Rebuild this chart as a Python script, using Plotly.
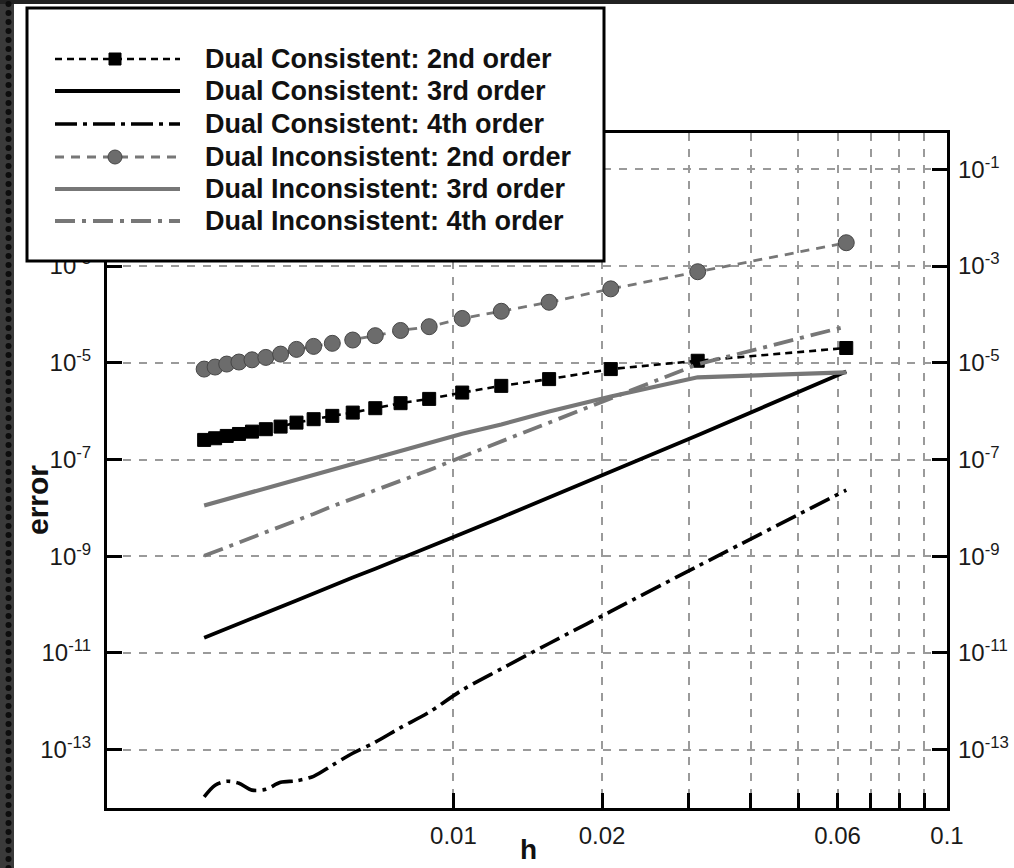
import plotly.graph_objects as go

# ---------------- data ----------------
h = [0.003125, 0.003289, 0.003472, 0.003676, 0.003906, 0.004167, 0.004464, 0.004808,
     0.005208, 0.005682, 0.00625, 0.006944, 0.007813, 0.008929, 0.010417, 0.0125,
     0.015625, 0.020833, 0.03125, 0.0625]

dc2 = [2.54e-7, 2.75e-7, 3.07e-7, 3.37e-7, 3.77e-7, 4.23e-7, 4.79e-7, 5.79e-7,
       6.81e-7, 7.98e-7, 9.33e-7, 1.15e-6, 1.46e-6, 1.79e-6, 2.42e-6, 3.33e-6,
       4.59e-6, 7.40e-6, 1.10e-5, 2.02e-5]
dc3 = [2.07e-11, 2.57e-11, 3.22e-11, 4.03e-11, 5.19e-11, 6.71e-11, 9.25e-11, 1.22e-10,
       1.69e-10, 2.48e-10, 3.64e-10, 5.51e-10, 8.87e-10, 1.53e-9, 2.96e-9, 6.34e-9,
       1.65e-8, 5.58e-8, 3.16e-7, 6.61e-6]
dc4 = [1.06e-14, 1.85e-14, 2.22e-14, 2.02e-14, 1.46e-14, 1.52e-14, 2.12e-14, 2.28e-14,
       2.82e-14, 4.78e-14, 8.45e-14, 1.43e-13, 2.86e-13, 5.98e-13, 1.71e-12, 4.70e-12,
       1.57e-11, 7.24e-11, 6.21e-10, 2.33e-8]
di2 = [7.40e-6, 8.15e-6, 9.40e-6, 1.035e-5, 1.15e-5, 1.29e-5, 1.51e-5, 1.89e-5,
       2.18e-5, 2.52e-5, 2.95e-5, 3.63e-5, 4.65e-5, 5.57e-5, 8.24e-5, 1.16e-4,
       1.78e-4, 3.37e-4, 7.62e-4, 3.03e-3]
di3 = [1.12e-8, 1.30e-8, 1.52e-8, 1.77e-8, 2.11e-8, 2.52e-8, 3.13e-8, 3.81e-8,
       4.75e-8, 6.18e-8, 8.07e-8, 1.07e-7, 1.49e-7, 2.17e-7, 3.40e-7, 5.31e-7,
       9.84e-7, 2.00e-6, 5.00e-6, 6.30e-6]
di4 = [1.02e-9, 1.26e-9, 1.55e-9, 1.92e-9, 2.44e-9, 3.11e-9, 4.21e-9, 5.52e-9,
       7.50e-9, 1.08e-8, 1.55e-8, 2.29e-8, 3.60e-8, 6.03e-8, 1.14e-7, 2.36e-7,
       5.87e-7, 1.88e-6, 9.31e-6, 5.65e-5]

series_names = ["Dual Consistent: 2nd order", "Dual Consistent: 3rd order",
                "Dual Consistent: 4th order", "Dual Inconsistent: 2nd order",
                "Dual Inconsistent: 3rd order", "Dual Inconsistent: 4th order"]

x_tickvals = [0.01, 0.02, 0.06, 0.1]
x_ticktext = ["0.01", "0.02", "0.06", "0.1"]
x_minorvals = [0.03, 0.04, 0.05, 0.07, 0.08, 0.09]
y_tickvals = [1e-13, 1e-11, 1e-9, 1e-7, 1e-5, 1e-3, 1e-1]
y_ticktext = ["10<sup>-13</sup>", "10<sup>-11</sup>", "10<sup>-9</sup>", "10<sup>-7</sup>",
              "10<sup>-5</sup>", "10<sup>-3</sup>", "10<sup>-1</sup>"]

# ---------------- styles ----------------
BLACK = "#000000"
GRAY = "#777777"
CIRC_FILL = "#6c6c6c"
FONT = "Liberation Sans, Arial, Helvetica, sans-serif"

styles = [
    dict(y=dc2, color=BLACK, width=2.6, dash="7px,5px", symbol="square", msize=13, mfill=BLACK, mline=BLACK),
    dict(y=dc3, color=BLACK, width=3.8, dash="solid", symbol=None),
    dict(y=dc4, color=BLACK, width=3.6, dash="22px,6px,4px,6px", symbol=None, shape="spline"),
    dict(y=di2, color=GRAY, width=2.8, dash="9px,7px", symbol="circle", msize=16, mfill=CIRC_FILL, mline="#474747"),
    dict(y=di3, color=GRAY, width=4.2, dash="solid", symbol=None),
    dict(y=di4, color=GRAY, width=3.8, dash="20px,7px,4px,7px", symbol=None),
]

fig = go.Figure()
for name, s in zip(series_names, styles):
    line = dict(color=s["color"], width=s["width"], dash=s["dash"])
    if s.get("shape") == "spline":
        line.update(shape="spline", smoothing=0.9)
    if s["symbol"]:
        fig.add_trace(go.Scatter(
            x=h, y=s["y"], name=name, mode="lines+markers", line=line,
            marker=dict(symbol=s["symbol"], size=s["msize"], color=s["mfill"],
                        line=dict(color=s["mline"], width=1)),
            showlegend=False))
    else:
        fig.add_trace(go.Scatter(x=h, y=s["y"], name=name, mode="lines", line=line,
                                 showlegend=False))

# invisible trace so the right-hand axis (tick labels on the right) is drawn
fig.add_trace(go.Scatter(x=h, y=di2, yaxis="y2", mode="lines", opacity=0,
                         hoverinfo="skip", showlegend=False))

# ---------------- layout geometry ----------------
L, R, T, B = 107, 67, 133, 60
FW, FH = 1014, 868
PW, PH = FW - L - R, FH - T - B


def px(x):
    return (x - L) / PW


def py(y):
    return (T + PH - y) / PH


grid = dict(showgrid=True, gridcolor="#9a9a9a", gridwidth=1.5, griddash="8px,8px")
tickstyle = dict(ticks="inside", ticklen=15, tickwidth=3, tickcolor=BLACK)

fig.update_layout(
    width=FW, height=FH,
    margin=dict(l=L, r=R, t=T, b=B, autoexpand=False),
    paper_bgcolor="white", plot_bgcolor="white",
    showlegend=False,
    font=dict(family=FONT, color="#1a1a1a"),
    xaxis=dict(type="log", range=[-2.702, -1], tickvals=x_tickvals, ticktext=x_ticktext,
               showline=True, linewidth=3, linecolor=BLACK, mirror=True, zeroline=False,
               automargin=False,
               tickfont=dict(size=24, family=FONT), ticklabelstandoff=4,
               minor=dict(tickvals=x_minorvals, ticks="inside", ticklen=15, tickwidth=3,
                          tickcolor=BLACK, showgrid=True, gridcolor="#9a9a9a", gridwidth=1.5,
                          griddash="8px,8px"),
               **grid, **tickstyle),
    yaxis=dict(type="log", range=[-14.205, -0.25], tickvals=y_tickvals, ticktext=y_ticktext,
               showline=True, linewidth=3, linecolor=BLACK, mirror=True, zeroline=False,
               automargin=False,
               tickfont=dict(size=24, family=FONT), ticklabelstandoff=8,
               **grid, **tickstyle),
    yaxis2=dict(type="log", range=[-14.205, -0.25], tickvals=y_tickvals, ticktext=y_ticktext,
                overlaying="y", side="right", showgrid=False, showline=False, zeroline=False,
                automargin=False,
                tickfont=dict(size=24, family=FONT), ticklabelstandoff=10, **tickstyle),
)

shapes = []
annotations = []

# dark film-strip border on the left and top edge of the photograph
shapes.append(dict(type="rect", xref="paper", yref="paper", x0=px(0), x1=px(14), y0=py(FH), y1=py(0),
                   fillcolor="#3a3a3a", line=dict(width=0), layer="above"))
shapes.append(dict(type="rect", xref="paper", yref="paper", x0=px(0), x1=px(FW), y0=py(4), y1=py(0),
                   fillcolor="#222222", line=dict(width=0), layer="above"))
for k in range(97):
    cy = 4 + 9 * k
    shapes.append(dict(type="circle", xref="paper", yref="paper", x0=px(5.5), x1=px(11.5),
                       y0=py(cy + 3), y1=py(cy - 3), fillcolor="#0d0d0d", line=dict(width=0),
                       layer="above"))

# legend box
shapes.append(dict(type="rect", xref="paper", yref="paper", x0=px(27), x1=px(604), y0=py(261), y1=py(8),
                   fillcolor="white", line=dict(color=BLACK, width=3), layer="above"))
row_y = [59, 91, 124, 157, 189, 221]
for name, s, ry in zip(series_names, styles, row_y):
    shapes.append(dict(type="line", xref="paper", yref="paper", x0=px(55), x1=px(180),
                       y0=py(ry), y1=py(ry),
                       line=dict(color=s["color"], width=s["width"], dash=s["dash"]), layer="above"))
    if s["symbol"] == "square":
        shapes.append(dict(type="rect", xref="paper", yref="paper", x0=px(109), x1=px(121),
                           y0=py(ry + 6), y1=py(ry - 6), fillcolor=s["mfill"],
                           line=dict(color=s["mline"], width=1), layer="above"))
    elif s["symbol"] == "circle":
        shapes.append(dict(type="circle", xref="paper", yref="paper", x0=px(108), x1=px(122),
                           y0=py(ry + 7), y1=py(ry - 7), fillcolor=s["mfill"],
                           line=dict(color=s["mline"], width=1), layer="above"))
    annotations.append(dict(xref="paper", yref="paper", x=px(203), y=py(ry), xanchor="left",
                            yanchor="middle", showarrow=False, text="<b>%s</b>" % name,
                            font=dict(size=27, family=FONT, color="#111111")))

# axis titles
annotations.append(dict(xref="paper", yref="paper", x=px(37), y=py(500), text="<b>error</b>",
                        textangle=-90, showarrow=False, xanchor="center", yanchor="middle",
                        font=dict(size=30, family=FONT, color="#111111")))
annotations.append(dict(xref="paper", yref="paper", x=px(528), y=py(849), text="<b>h</b>",
                        showarrow=False, xanchor="center", yanchor="middle",
                        font=dict(size=28, family=FONT, color="#111111")))

fig.update_layout(shapes=shapes, annotations=annotations)

fig.write_html("out.html")
